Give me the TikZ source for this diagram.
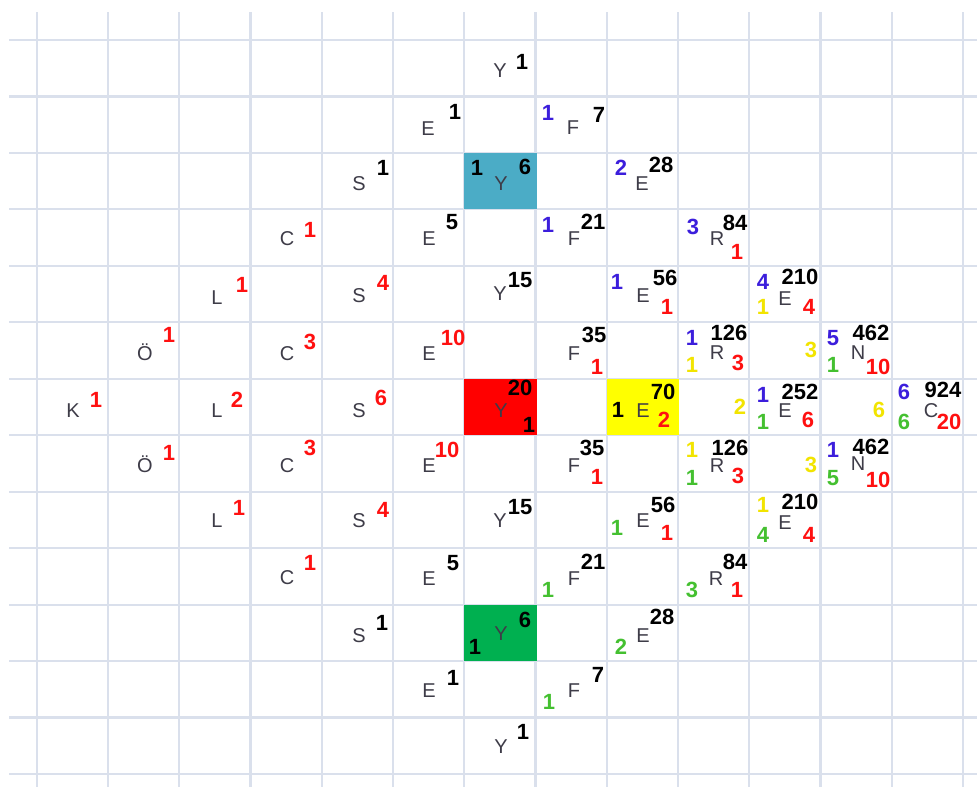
\documentclass[tikz,border=0pt]{standalone}
\usepackage{fontspec}
\setmainfont{Liberation Sans}
\definecolor{gridc}{HTML}{DAE0EC}
\definecolor{ltc}{HTML}{3E3C48}
\definecolor{cb}{HTML}{3C1EDC}
\definecolor{cr}{HTML}{FF1010}
\definecolor{cg}{HTML}{44C030}
\definecolor{cy}{HTML}{F2E400}
\definecolor{fteal}{HTML}{4BACC6}
\definecolor{fred}{HTML}{FF0000}
\definecolor{fyel}{HTML}{FFFF00}
\definecolor{fgrn}{HTML}{00B050}
\begin{document}
\begin{tikzpicture}[x=1pt,y=-1pt,
  gridline/.style={draw=gridc,line width=2.2pt},
  lt/.style={text=ltc,font=\fontsize{20}{20}\selectfont,inner sep=0pt,text height=14.3pt,text depth=0pt},
  nm/.style={font=\fontsize{22}{22}\selectfont\bfseries,inner sep=0pt,text height=15.8pt,text depth=0pt},
  nk/.style={nm,text=black},
  nr/.style={nm,text=cr},
  nb/.style={nm,text=cb},
  ng/.style={nm,text=cg},
  ny/.style={nm,text=cy}]
\useasboundingbox (0,0) rectangle (977,787);
\fill[white] (0,0) rectangle (977,787);
% grid
\foreach \k in {0,...,13} {
  \draw[gridline] ({36.8+71.25*\k},12) -- ({36.8+71.25*\k},787);
  \draw[gridline] (9,{40+56.46*\k}) -- (977,{40+56.46*\k});
}
% filled cells
\fill[fteal] (464.3,152.9) rectangle (536.5,209.4);
\fill[fred] (464.3,378.8) rectangle (536.5,435.2);
\fill[fyel] (606.8,378.8) rectangle (679.0,435.2);
\fill[fgrn] (464.3,604.6) rectangle (536.5,661.1);
% row 0
\node[lt] (L0a) at (500,70) {Y};
\node[nk] (N0a) at (522,62) {1};
% row 1
\node[lt] (L1a) at (428,128) {E};
\node[nk] (N1a) at (455,112) {1};
\node[nb] (N1b) at (548,113) {1};
\node[lt] (L1b) at (573,127) {F};
\node[nk] (N1c) at (599,115) {7};
% row 2
\node[lt] (L2a) at (359,183) {S};
\node[nk] (N2a) at (383,168) {1};
\node[nk] (N2b) at (477,168) {1};
\node[lt] (L2b) at (501,183) {Y};
\node[nk] (N2c) at (525,167) {6};
\node[nb] (N2d) at (621,168) {2};
\node[lt] (L2c) at (642,183) {E};
\node[nk] (N2e) at (661,165) {28};
% row 3
\node[lt] (L3a) at (287,238) {C};
\node[nr] (N3a) at (310,230) {1};
\node[lt] (L3b) at (429,238) {E};
\node[nk] (N3b) at (452,222) {5};
\node[nb] (N3c) at (548,225) {1};
\node[lt] (L3c) at (574,238) {F};
\node[nk] (N3d) at (593,222) {21};
\node[nb] (N3e) at (693,227) {3};
\node[lt] (L3d) at (717,238) {R};
\node[nk] (N3f) at (735,223) {84};
\node[nr] (N3g) at (737,252) {1};
% row 4
\node[lt] (L4a) at (217,297) {L};
\node[nr] (N4a) at (242,285) {1};
\node[lt] (L4b) at (359,295) {S};
\node[nr] (N4b) at (383,283) {4};
\node[lt] (L4c) at (500,293) {Y};
\node[nk] (N4c) at (520,280) {15};
\node[nb] (N4d) at (617,282) {1};
\node[lt] (L4d) at (643,295) {E};
\node[nk] (N4e) at (665,278) {56};
\node[nr] (N4f) at (667,307) {1};
\node[nb] (N4g) at (763,282) {4};
\node[nk] (N4h) at (800,277) {210};
\node[lt] (L4e) at (785,298) {E};
\node[ny] (N4i) at (763,307) {1};
\node[nr] (N4j) at (809,307) {4};
% row 5
\node[lt] (L5a) at (145,353) {Ö};
\node[nr] (N5a) at (169,335) {1};
\node[lt] (L5b) at (287,353) {C};
\node[nr] (N5b) at (310,342) {3};
\node[lt] (L5c) at (429,353) {E};
\node[nr] (N5c) at (453,338) {10};
\node[lt] (L5d) at (574,353) {F};
\node[nk] (N5d) at (594,335) {35};
\node[nr] (N5e) at (597,367) {1};
\node[nb] (N5f) at (692,338) {1};
\node[nk] (N5g) at (729,333) {126};
\node[lt] (L5e) at (717,352) {R};
\node[ny] (N5h) at (692,365) {1};
\node[nr] (N5i) at (738,363) {3};
\node[ny] (N5j) at (811,350) {3};
\node[nb] (N5k) at (833,338) {5};
\node[nk] (N5l) at (871,333) {462};
\node[lt] (L5f) at (858,352) {N};
\node[ng] (N5m) at (833,365) {1};
\node[nr] (N5n) at (878,367) {10};
% row 6
\node[lt] (L6a) at (73,410) {K};
\node[nr] (N6a) at (96,400) {1};
\node[lt] (L6b) at (217,410) {L};
\node[nr] (N6b) at (237,400) {2};
\node[lt] (L6c) at (359,410) {S};
\node[nr] (N6c) at (381,398) {6};
\node[lt] (L6d) at (501,410) {Y};
\node[nk] (N6d) at (520,388) {20};
\node[nk] (N6e) at (529,425) {1};
\node[nk] (N6f) at (618,410) {1};
\node[lt] (L6e) at (643,410) {E};
\node[nk] (N6g) at (663,392) {70};
\node[nr] (N6h) at (664,420) {2};
\node[ny] (N6i) at (740,407) {2};
\node[nb] (N6j) at (763,395) {1};
\node[nk] (N6k) at (800,392) {252};
\node[lt] (L6f) at (785,410) {E};
\node[ng] (N6l) at (763,422) {1};
\node[nr] (N6m) at (808,420) {6};
\node[ny] (N6n) at (879,410) {6};
\node[nb] (N6o) at (904,392) {6};
\node[nk] (N6p) at (943,390) {924};
\node[lt] (L6g) at (931,410) {C};
\node[ng] (N6q) at (904,422) {6};
\node[nr] (N6r) at (949,422) {20};
% row 7
\node[lt] (L7a) at (145,465) {Ö};
\node[nr] (N7a) at (169,453) {1};
\node[lt] (L7b) at (287,465) {C};
\node[nr] (N7b) at (310,448) {3};
\node[lt] (L7c) at (429,465) {E};
\node[nr] (N7c) at (447,450) {10};
\node[lt] (L7d) at (574,465) {F};
\node[nk] (N7d) at (592,448) {35};
\node[nr] (N7e) at (597,477) {1};
\node[ny] (N7f) at (692,450) {1};
\node[nk] (N7g) at (730,448) {126};
\node[lt] (L7e) at (717,465) {R};
\node[ng] (N7h) at (692,478) {1};
\node[nr] (N7i) at (738,476) {3};
\node[ny] (N7j) at (811,465) {3};
\node[nb] (N7k) at (833,450) {1};
\node[nk] (N7l) at (871,447) {462};
\node[lt] (L7f) at (858,463) {N};
\node[ng] (N7m) at (833,478) {5};
\node[nr] (N7n) at (878,480) {10};
% row 8
\node[lt] (L8a) at (217,520) {L};
\node[nr] (N8a) at (239,508) {1};
\node[lt] (L8b) at (359,520) {S};
\node[nr] (N8b) at (383,510) {4};
\node[lt] (L8c) at (500,520) {Y};
\node[nk] (N8c) at (520,507) {15};
\node[ng] (N8d) at (617,528) {1};
\node[lt] (L8d) at (643,520) {E};
\node[nk] (N8e) at (663,505) {56};
\node[nr] (N8f) at (667,533) {1};
\node[ny] (N8g) at (763,505) {1};
\node[nk] (N8h) at (800,502) {210};
\node[lt] (L8e) at (785,522) {E};
\node[ng] (N8i) at (763,535) {4};
\node[nr] (N8j) at (809,535) {4};
% row 9
\node[lt] (L9a) at (287,577) {C};
\node[nr] (N9a) at (310,563) {1};
\node[lt] (L9b) at (429,578) {E};
\node[nk] (N9b) at (453,563) {5};
\node[ng] (N9c) at (548,590) {1};
\node[lt] (L9c) at (574,578) {F};
\node[nk] (N9d) at (593,562) {21};
\node[ng] (N9e) at (692,590) {3};
\node[lt] (L9d) at (716,578) {R};
\node[nk] (N9f) at (735,562) {84};
\node[nr] (N9g) at (737,590) {1};
% row 10
\node[lt] (L10a) at (359,635) {S};
\node[nk] (N10a) at (382,623) {1};
\node[nk] (N10b) at (475,647) {1};
\node[lt] (L10b) at (501,633) {Y};
\node[nk] (N10c) at (525,620) {6};
\node[ng] (N10d) at (621,647) {2};
\node[lt] (L10c) at (643,635) {E};
\node[nk] (N10e) at (662,617) {28};
% row 11
\node[lt] (L11a) at (429,690) {E};
\node[nk] (N11a) at (453,678) {1};
\node[ng] (N11b) at (549,702) {1};
\node[lt] (L11b) at (574,690) {F};
\node[nk] (N11c) at (598,675) {7};
% row 12
\node[lt] (L12a) at (501,746) {Y};
\node[nk] (N12a) at (523,732) {1};
\end{tikzpicture}
\end{document}
